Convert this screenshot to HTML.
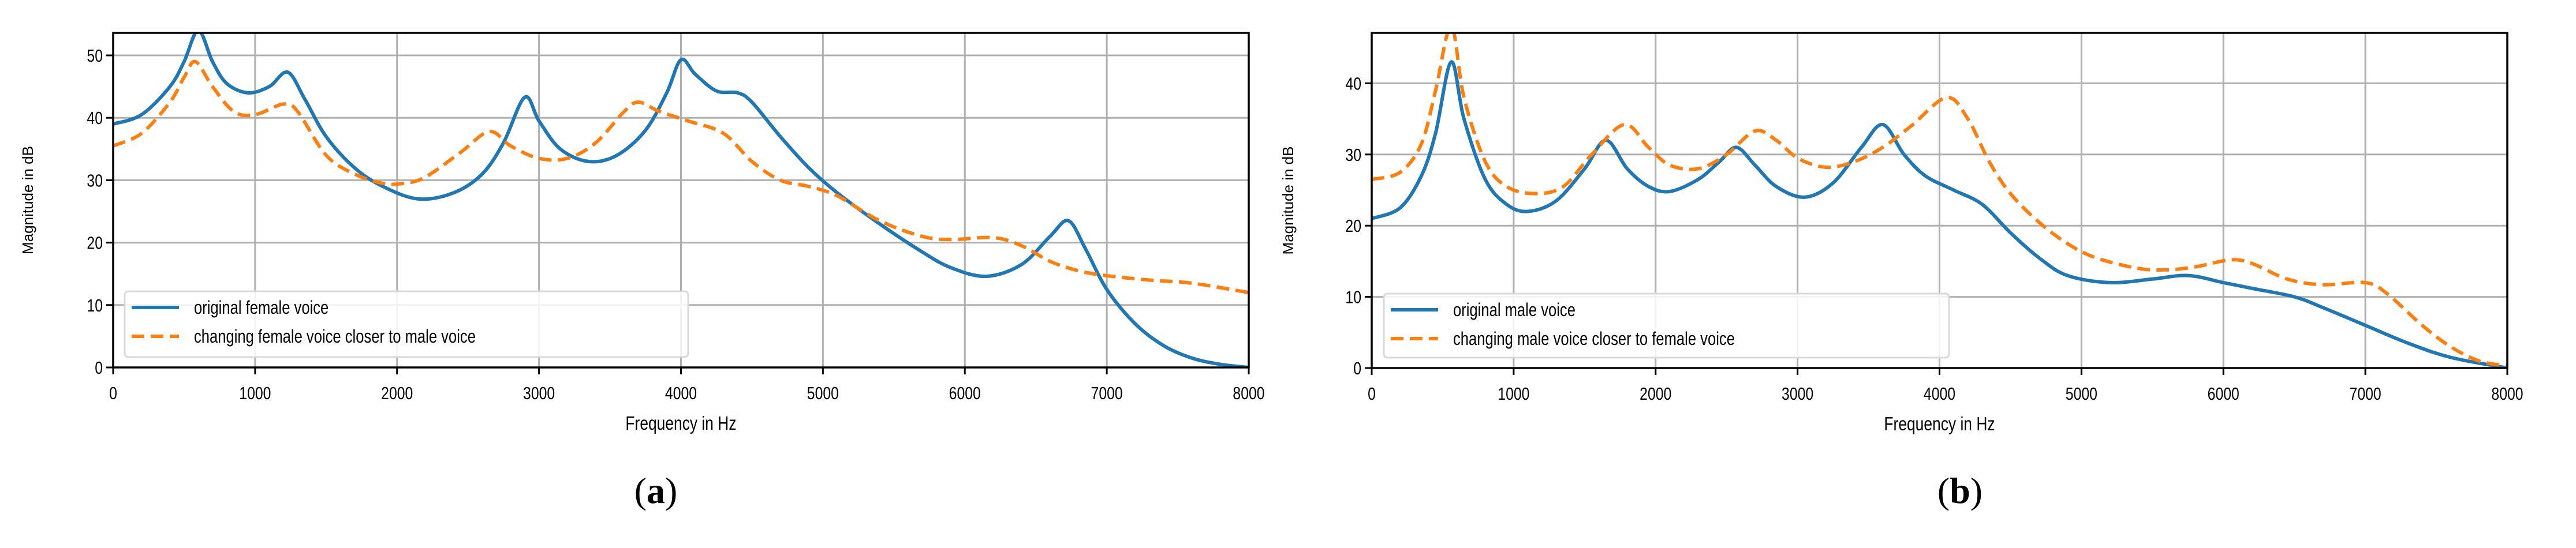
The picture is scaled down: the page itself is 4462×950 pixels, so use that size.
<!DOCTYPE html>
<html><head><meta charset="utf-8"><style>
html,body{margin:0;padding:0;background:#fff;}
svg{display:block;font-family:"Liberation Sans",sans-serif;}
</style></head><body>
<svg id="svg" width="4462" height="950" viewBox="0 0 4462 950">
<defs>
<clipPath id="clipA"><rect x="196" y="57" width="1967" height="580"/></clipPath>
<clipPath id="clipB"><rect x="2376" y="57" width="1967" height="581"/></clipPath>
</defs>
</svg>
<script>
const xTicks=[0,1000,2000,3000,4000,5000,6000,7000,8000];
const aYTicks=[0,10,20,30,40,50];
const bYTicks=[0,10,20,30,40];
const aBlueF=[0,200,400,500,600,700,800,950,1100,1230,1350,1500,1700,1900,2150,2400,2600,2750,2900,3000,3150,3350,3550,3750,3900,4000,4100,4250,4400,4500,4700,4900,5100,5400,5700,5900,6150,6400,6600,6730,6850,7000,7200,7400,7600,7800,8000];
const aBlueV=[39,40.5,45,49,54,49,45.5,44,45,47.3,43,37,32,29,27,28,31,36,43.3,39.5,35,33,34,38,44,49.3,47,44.3,44,42.5,37,32,28,23,18.5,16,14.6,16.5,21,23.5,19,12.5,7,3.5,1.5,0.5,0];
const aOrgF=[0,200,400,500,580,700,850,1000,1200,1300,1500,1700,1900,2050,2200,2450,2650,2800,3000,3200,3400,3600,3700,3850,4050,4300,4500,4700,4900,5100,5400,5700,5900,6200,6400,6600,6800,7000,7300,7600,8000];
const aOrgV=[35.5,37.5,42.5,46.5,49,45,41,40.5,42.2,41,34,31,29.5,29.5,30.5,34.5,37.8,35.5,33.5,33.5,36,41,42.5,41,39.5,37.5,33,30,29,27.5,23.5,21,20.5,20.8,19.5,17,15.5,14.7,14,13.5,12];
const bBlueF=[0,200,350,450,560,650,800,950,1100,1300,1500,1650,1800,1950,2100,2300,2450,2570,2700,2850,3050,3250,3450,3600,3750,3900,4100,4300,4500,4700,4900,5200,5500,5750,6000,6200,6500,6700,7000,7300,7600,8000];
const bBlueV=[21,22.5,27,33,43,35,26.5,23,22,23.5,28,32,28,25.5,24.8,26.5,29,31,28.5,25.5,24,26,31,34.2,30,27,25,23,19,15.5,13,12,12.5,13,12,11.2,10,8.5,6,3.5,1.5,0];
const bOrgF=[0,200,350,450,560,650,800,950,1150,1350,1550,1780,1950,2100,2300,2500,2700,2850,3000,3200,3400,3600,3800,4050,4200,4350,4500,4700,4900,5100,5400,5600,5800,6050,6200,6450,6700,7000,7150,7400,7600,7800,8000];
const bOrgV=[26.5,27.5,31.5,39,48,38,29,25.5,24.5,25.5,30,34.2,31,28.5,28,30,33.3,32,29.5,28.2,29,31,34,38,35,29,24.5,20.5,17.5,15.5,14,13.8,14.2,15.2,14.7,12.5,11.7,12,10.5,6,3,1,0.3];

const NS="http://www.w3.org/2000/svg";
const svg=document.getElementById('svg');
function mk(tag,attrs,parent){const e=document.createElementNS(NS,tag);for(const k in attrs)e.setAttribute(k,attrs[k]);(parent||svg).appendChild(e);return e;}
function smooth(pts){let d=`M${pts[0][0]},${pts[0][1]}`;for(let i=0;i<pts.length-1;i++){const p0=pts[Math.max(0,i-1)],p1=pts[i],p2=pts[i+1],p3=pts[Math.min(pts.length-1,i+2)];const c1=[p1[0]+(p2[0]-p0[0])/6,p1[1]+(p2[1]-p0[1])/6],c2=[p2[0]-(p3[0]-p1[0])/6,p2[1]-(p3[1]-p1[1])/6];d+=`C${c1[0]},${c1[1]} ${c2[0]},${c2[1]} ${p2[0]},${p2[1]}`;}return d;}
const SX=0.8;
function panel(cfg){
  const g=mk('g',{});
  
  
  const xs=f=>cfg.x0+(f/8000)*(cfg.x1-cfg.x0);
  const ys=v=>cfg.y0-v*cfg.pxPerDb;
  xTicks.forEach(t=>{const l=mk('line',{x1:xs(t),x2:xs(t),y1:cfg.top,y2:cfg.y0,stroke:'#b0b0b0','stroke-width':3},g);
    
    });
  cfg.yTicks.forEach(t=>{const l=mk('line',{x1:cfg.x0,x2:cfg.x1,y1:ys(t),y2:ys(t),stroke:'#b0b0b0','stroke-width':3},g);
    
    });
  const series=[[cfg.bF,cfg.bV,'#1f77b4','none','blue-series'],[cfg.oF,cfg.oV,'#ff7f0e','22,11','orange-series']];
  series.forEach(s=>{const pts=s[0].map((f,i)=>[xs(f),ys(s[1][i])]);
    const p=mk('path',{d:smooth(pts),fill:'none',stroke:s[2],'stroke-width':6,'stroke-dasharray':s[3],'clip-path':`url(#${cfg.clip})`},g);
    
    });
  const fr=mk('rect',{x:cfg.x0,y:cfg.top,width:cfg.x1-cfg.x0,height:cfg.y0-cfg.top,fill:'none',stroke:'#000','stroke-width':3.5},g);
  
  
  xTicks.forEach(t=>{mk('line',{x1:xs(t),x2:xs(t),y1:cfg.y0,y2:cfg.y0+12,stroke:'#000','stroke-width':3},g);
    const tx=mk('text',{x:xs(t),y:cfg.y0+55,'text-anchor':'middle','font-size':31,transform:`translate(${xs(t)},0) scale(${SX},1) translate(${-xs(t)},0)`},g);tx.textContent=t;
    
    });
  cfg.yTicks.forEach(t=>{mk('line',{x1:cfg.x0-12,x2:cfg.x0,y1:ys(t),y2:ys(t),stroke:'#000','stroke-width':3},g);
    const tx=mk('text',{x:cfg.x0-18,y:ys(t)+11,'text-anchor':'end','font-size':31,transform:`translate(${cfg.x0-18},0) scale(${SX},1) translate(${-(cfg.x0-18)},0)`},g);tx.textContent=t;
    
    });
  const xl=mk('text',{x:(cfg.x0+cfg.x1)/2,y:cfg.y0+108,'text-anchor':'middle','font-size':33,transform:`translate(${(cfg.x0+cfg.x1)/2},0) scale(${SX},1) translate(${-(cfg.x0+cfg.x1)/2},0)`},g);xl.textContent='Frequency in Hz';
  
  
  const yl=mk('text',{x:0,y:0,'text-anchor':'middle','font-size':26,transform:`translate(${cfg.ylx},${(cfg.top+cfg.y0)/2}) rotate(-90)`},g);yl.textContent='Magnitude in dB';
  
  
  const L=cfg.leg;
  const lg=mk('g',{},g);
  
  
  mk('rect',{x:L.x,y:L.y,width:L.w,height:L.h,rx:6,fill:'#fff','fill-opacity':0.85,stroke:'#d8d8d8','stroke-width':3},lg);
  [[L.t1,'#1f77b4','none',L.y+28],[L.t2,'#ff7f0e','22,11',L.y+78]].forEach(e=>{
    mk('line',{x1:L.x+12,x2:L.x+94,y1:e[3],y2:e[3],stroke:e[1],'stroke-width':6,'stroke-dasharray':e[2]},lg);
    const t=mk('text',{x:L.x+120,y:e[3]+11,'font-size':32,transform:`translate(${L.x+120},0) scale(${SX},1) translate(${-(L.x+120)},0)`},lg);t.textContent=e[0];
    
    });
  const cap=mk('text',{x:cfg.capx,y:872,'text-anchor':'middle','font-size':64,'font-family':'Liberation Serif, serif'},g);
  cap.innerHTML=`(<tspan font-weight="bold">${cfg.cap}</tspan>)`;
  
  
}
panel({name:'chart-a',x0:196,x1:2163,top:57,y0:637,pxPerDb:10.82,yTicks:aYTicks,clip:'clipA',bF:aBlueF,bV:aBlueV,oF:aOrgF,oV:aOrgV,ylx:57,cap:'a',capx:1136,
  leg:{x:216,y:505,w:976,h:114,t1:'original female voice',t2:'changing female voice closer to male voice'}});
panel({name:'chart-b',x0:2376,x1:4343,top:57,y0:638,pxPerDb:12.34,yTicks:bYTicks,clip:'clipB',bF:bBlueF,bV:bBlueV,oF:bOrgF,oV:bOrgV,ylx:2240,cap:'b',capx:3395,
  leg:{x:2397,y:509,w:979,h:111,t1:'original male voice',t2:'changing male voice closer to female voice'}});
</script>
</body></html>
